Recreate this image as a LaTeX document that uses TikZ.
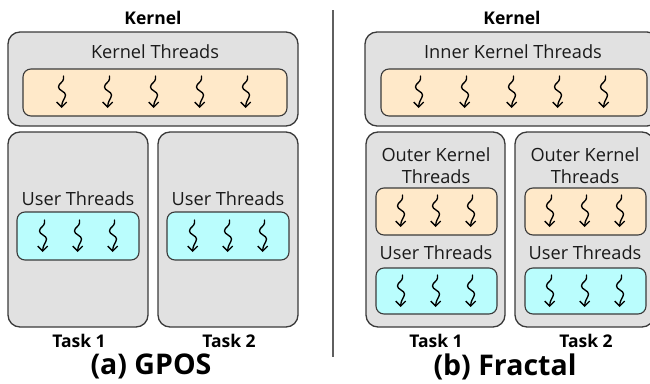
\documentclass[tikz,border=0pt]{standalone}
\usepackage{fontspec}
\setmainfont{Open Sans}
\usetikzlibrary{arrows.meta}

\definecolor{boxgray}{HTML}{E1E1E1}
\definecolor{boxline}{HTML}{3A3A3A}
\definecolor{kfill}{HTML}{FFE9C9}
\definecolor{ufill}{HTML}{BAFDFD}
\definecolor{txt}{HTML}{1A1A1A}

\tikzset{
  region/.style={draw=boxline, fill=boxgray, line width=1.3pt, rounded corners=12pt, inner sep=0pt},
  kpool/.style={draw=boxline, fill=kfill, line width=1.1pt, rounded corners=8pt, inner sep=0pt},
  upool/.style={draw=boxline, fill=ufill, line width=1.1pt, rounded corners=8pt, inner sep=0pt},
  label/.style={text=txt, font=\fontsize{18.2}{22}\selectfont, inner sep=0pt, align=center},
  heading/.style={text=black, font=\fontsize{17.5}{20}\selectfont\bfseries, inner sep=0pt},
  caption/.style={text=black, font=\fontsize{28.5}{33}\selectfont\bfseries, inner sep=0pt},
  thread/.pic={
    \draw[line width=1.35pt, black, line cap=round, -{Straight Barb[length=5pt,width=10pt,line width=1.35pt]}]
      (1.5,-16) -- (1.5,-13)
      .. controls (1.5,-10) and (-3.5,-8.5) .. (-3.5,-5)
      .. controls (-3.5,-1.5) and (3.5,-0.5) .. (3.5,3)
      .. controls (3.5,6) and (-0.3,9) .. (-0.3,16);
  }
}

\begin{document}
\begin{tikzpicture}[x=1pt,y=-1pt]
\useasboundingbox (0,0) rectangle (650,383);
\clip (0,0) rectangle (650,383);

% ---------- (a) GPOS ----------
\node[heading] (kernA) at (153,18) {Kernel};
\node[region, minimum width=290pt, minimum height=94pt] (kboxA) at (153,79) {};
\node[label] (ktA) at (155,52) {Kernel Threads};
\node[kpool, minimum width=264pt, minimum height=47pt] (kpoolA) at (155,92.5) {};
\foreach \x in {62,108,154,200,246} \pic at (\x,92) {thread};

\node[region, minimum width=140pt, minimum height=195pt] (taskA1) at (78,229.5) {};
\node[region, minimum width=140pt, minimum height=195pt] (taskA2) at (228,229.5) {};
\node[label] (utA1) at (78,199) {User Threads};
\node[label] (utA2) at (228,199) {User Threads};
\node[upool, minimum width=122pt, minimum height=48pt] (upoolA1) at (78,236) {};
\node[upool, minimum width=122pt, minimum height=48pt] (upoolA2) at (228,236) {};
\foreach \x in {43,78,113,193,228,263} \pic at (\x,236) {thread};

\node[heading] (tA1) at (79,341) {Task 1};
\node[heading] (tA2) at (229,341) {Task 2};
\node[caption] (capA) at (151,366.5) {(a) GPOS};

% ---------- divider ----------
\coordinate (divtop) at (333,10);
\coordinate (divbot) at (333,357);
\draw[line width=1.3pt, draw={rgb,255:red,95;green,95;blue,95}] (divtop) -- (divbot);

% ---------- (b) Fractal ----------
\node[heading] (kernB) at (512,18) {Kernel};
\node[region, minimum width=294pt, minimum height=94pt] (kboxB) at (512,79) {};
\node[label] (ktB) at (513,52) {Inner Kernel Threads};
\node[kpool, minimum width=266pt, minimum height=47pt] (kpoolB) at (514,92.5) {};
\foreach \x in {419,465,512,558,604} \pic at (\x,92) {thread};

\foreach \c/\n in {435.5/1,584.5/2}{
  \node[region, minimum width=139pt, minimum height=195pt] (taskB\n) at (\c,229.5) {};
  \node[label] (okB\n) at (\c+0.5,166) {Outer Kernel\\Threads};
  \node[kpool, minimum width=121pt, minimum height=47pt] (kpB\n) at (\c+1,211.5) {};
  \node[label] (utB\n) at (\c+0.5,253) {User Threads};
  \node[upool, minimum width=121pt, minimum height=46pt] (upB\n) at (\c+1,291) {};
  \foreach \dx in {-35,0,35} {
    \pic at (\c+0.5+\dx,211) {thread};
    \pic at (\c+0.5+\dx,291) {thread};
  }
}

\node[heading] (tB1) at (436,341) {Task 1};
\node[heading] (tB2) at (586,341) {Task 2};
\node[caption] (capB) at (505,366.5) {(b) Fractal};
\end{tikzpicture}
\end{document}
